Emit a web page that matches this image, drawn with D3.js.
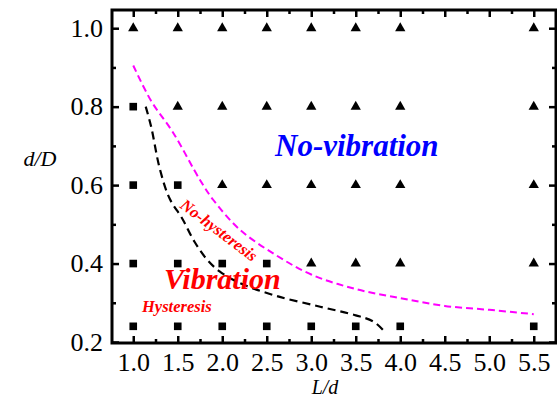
<!DOCTYPE html>
<html>
<head>
<meta charset="utf-8">
<script src="https://cdn.jsdelivr.net/npm/d3@7"></script>
<style>
  html, body { margin: 0; padding: 0; background: #fff; }
  svg { display: block; }
  text { font-family: "Liberation Serif", "Times New Roman", serif; }
</style>
</head>
<body>
<svg id="chart" width="557" height="397"></svg>
<script>
// ---- data ----
const xTicks = [1.0, 1.5, 2.0, 2.5, 3.0, 3.5, 4.0, 4.5, 5.0, 5.5];
const xMinorTicks = [1.25, 1.75, 2.25, 2.75, 3.25, 3.75, 4.25, 4.75, 5.25];
const yTicks = [0.2, 0.4, 0.6, 0.8, 1.0];
const yMinorTicks = [0.3, 0.5, 0.7, 0.9];

// Vibration (squares)
const vibL = [1.0, 1.0, 1.5, 1.0, 1.5, 2.0, 2.5, 1.0, 1.5, 2.0, 2.5, 3.0, 3.5, 4.0, 5.5];
const vibD = [0.8, 0.6, 0.6, 0.4, 0.4, 0.4, 0.4, 0.24, 0.24, 0.24, 0.24, 0.24, 0.24, 0.24, 0.24];

// No-vibration (triangles)
const noVibL = [1.0, 1.5, 2.0, 2.5, 3.0, 3.5, 4.0, 5.5,
                1.5, 2.0, 2.5, 3.0, 3.5, 4.0, 5.5,
                2.0, 2.5, 3.0, 3.5, 4.0, 5.5,
                3.0, 3.5, 4.0, 5.5];
const noVibD = [1.0, 1.0, 1.0, 1.0, 1.0, 1.0, 1.0, 1.0,
                0.8, 0.8, 0.8, 0.8, 0.8, 0.8, 0.8,
                0.6, 0.6, 0.6, 0.6, 0.6, 0.6,
                0.4, 0.4, 0.4, 0.4];

// Boundary curves
const upperL = [1.0, 1.2, 1.45, 1.75, 1.9, 2.2, 2.6, 3.0, 3.5, 4.0, 4.5, 5.0, 5.5];
const upperD = [0.905, 0.815, 0.733, 0.613, 0.562, 0.486, 0.422, 0.372, 0.335, 0.312, 0.292, 0.282, 0.271];
const lowerL = [1.14, 1.20, 1.30, 1.41, 1.55, 1.69, 1.83, 1.97, 2.2, 2.6, 3.1, 3.5, 3.7, 3.83];
const lowerD = [0.80, 0.75, 0.64, 0.565, 0.515, 0.455, 0.41, 0.38, 0.35, 0.318, 0.29, 0.268, 0.252, 0.225];

// ---- chart ----
const svg = d3.select("#chart");
const padL = 112, padR = 556, padT = 10, padB = 343;
const x = d3.scaleLinear().domain([0.75, 5.75]).range([111, 556]);
const y = d3.scaleLinear().domain([0.2, 1.05]).range([342, 8.6]);

const fmt = d3.format(".1f");
const tickStroke = 2.5;

function styleAxis(g) {
  g.select(".domain").remove();
  g.selectAll(".tick line").attr("stroke", "#000").attr("stroke-width", tickStroke);
  g.selectAll(".tick text").attr("fill", "#000").style("font-size", "26px")
    .style("font-family", '"Liberation Serif", "Times New Roman", serif');
}

// bottom
svg.append("g").attr("transform", `translate(0,${padB})`)
  .call(d3.axisBottom(x).tickValues(xTicks).tickFormat(fmt).tickSizeInner(-7).tickSizeOuter(0).tickPadding(10))
  .call(styleAxis);
svg.append("g").attr("transform", `translate(0,${padB})`)
  .call(d3.axisBottom(x).tickValues(xMinorTicks).tickFormat("").tickSizeInner(-4).tickSizeOuter(0))
  .call(styleAxis);
// top
svg.append("g").attr("transform", `translate(0,${padT})`)
  .call(d3.axisTop(x).tickValues(xTicks).tickFormat("").tickSizeInner(-7).tickSizeOuter(0))
  .call(styleAxis);
svg.append("g").attr("transform", `translate(0,${padT})`)
  .call(d3.axisTop(x).tickValues(xMinorTicks).tickFormat("").tickSizeInner(-4).tickSizeOuter(0))
  .call(styleAxis);
// left
svg.append("g").attr("transform", `translate(${padL},0)`)
  .call(d3.axisLeft(y).tickValues(yTicks).tickFormat(fmt).tickSizeInner(-7).tickSizeOuter(0).tickPadding(9))
  .call(styleAxis);
svg.append("g").attr("transform", `translate(${padL},0)`)
  .call(d3.axisLeft(y).tickValues(yMinorTicks).tickFormat("").tickSizeInner(-4).tickSizeOuter(0))
  .call(styleAxis);
// right
svg.append("g").attr("transform", `translate(${padR},0)`)
  .call(d3.axisRight(y).tickValues(yTicks).tickFormat("").tickSizeInner(-7).tickSizeOuter(0))
  .call(styleAxis);
svg.append("g").attr("transform", `translate(${padR},0)`)
  .call(d3.axisRight(y).tickValues(yMinorTicks).tickFormat("").tickSizeInner(-4).tickSizeOuter(0))
  .call(styleAxis);

// frame
svg.append("rect")
  .attr("x", padL).attr("y", padT)
  .attr("width", padR - padL).attr("height", padB - padT)
  .attr("fill", "none").attr("stroke", "#000").attr("stroke-width", 3);

// curves
const line = d3.line().x(d => x(d[0])).y(d => y(d[1])).curve(d3.curveCatmullRom.alpha(0.5));
svg.append("path")
  .datum(upperL.map((v, i) => [v, upperD[i]]))
  .attr("d", line).attr("fill", "none")
  .attr("stroke", "#ff00ff").attr("stroke-width", 2).attr("stroke-dasharray", "7,4");
svg.append("path")
  .datum(lowerL.map((v, i) => [v, lowerD[i]]))
  .attr("d", line).attr("fill", "none")
  .attr("stroke", "#000").attr("stroke-width", 2.2).attr("stroke-dasharray", "8,5");

// markers
const sq = d3.symbol().type(d3.symbolSquare).size(58);
svg.append("g").selectAll("path")
  .data(vibL.map((v, i) => [v, vibD[i]]))
  .join("path")
  .attr("d", sq)
  .attr("transform", d => `translate(${x(d[0])},${y(d[1])})`)
  .attr("fill", "#000");
const tri = d3.symbol().type(d3.symbolTriangle).size(46);
svg.append("g").selectAll("path")
  .data(noVibL.map((v, i) => [v, noVibD[i]]))
  .join("path")
  .attr("d", tri)
  .attr("transform", d => `translate(${x(d[0])},${y(d[1])})`)
  .attr("fill", "#000");

// region labels
svg.append("text")
  .attr("x", 275).attr("y", 156)
  .attr("fill", "#0000ff")
  .style("font-size", "31px").style("font-weight", "bold").style("font-style", "italic")
  .text("No-vibration");
svg.append("text")
  .attr("x", 164).attr("y", 289)
  .attr("fill", "#ff0000")
  .style("font-size", "30px").style("font-weight", "bold").style("font-style", "italic")
  .text("Vibration");
svg.append("text")
  .attr("x", 142).attr("y", 312)
  .attr("fill", "#ff0000")
  .style("font-size", "16.5px").style("font-weight", "bold").style("font-style", "italic")
  .text("Hysteresis");
svg.append("text")
  .attr("transform", "translate(179,207) rotate(37)")
  .attr("fill", "#ff0000")
  .style("font-size", "16.5px").style("font-weight", "bold").style("font-style", "italic")
  .text("No-hysteresis");

// axis titles
svg.append("text")
  .attr("x", 40).attr("y", 166).attr("text-anchor", "middle")
  .style("font-size", "22px").style("font-style", "italic")
  .text("d/D");
svg.append("text")
  .attr("x", 325).attr("y", 394).attr("text-anchor", "middle")
  .style("font-size", "20px").style("font-style", "italic")
  .text("L/d");
</script>
</body>
</html>
